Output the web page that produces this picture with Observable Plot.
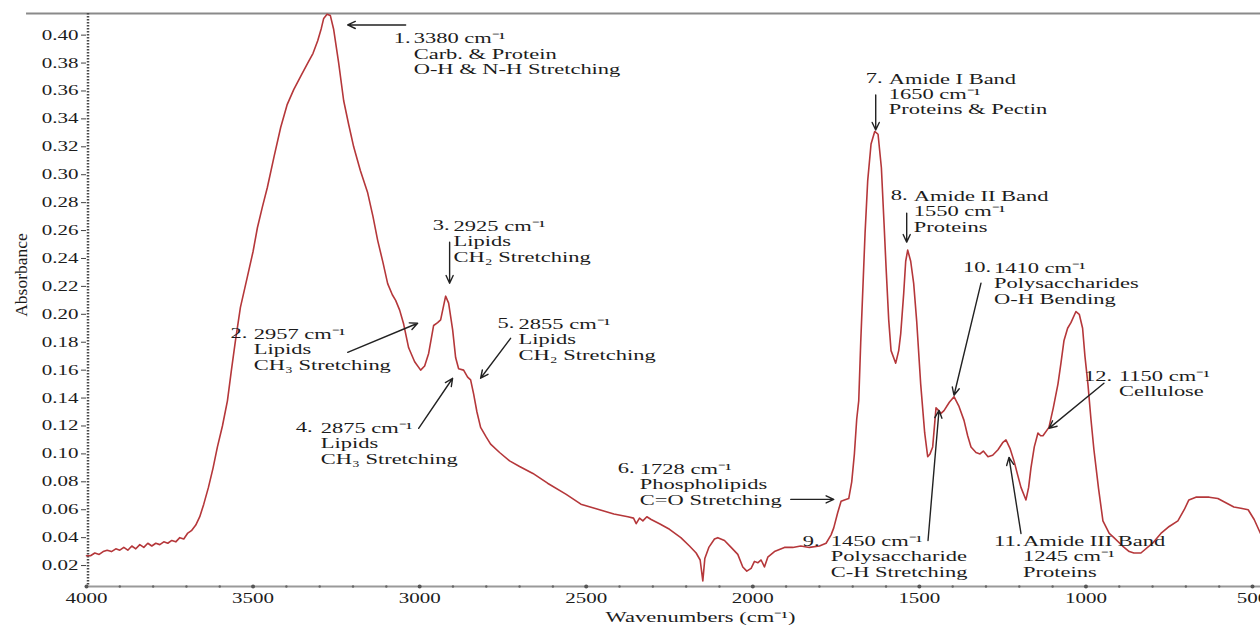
<!DOCTYPE html>
<html>
<head>
<meta charset="utf-8">
<script src="https://cdn.jsdelivr.net/npm/d3@7"></script>
<script src="https://cdn.jsdelivr.net/npm/@observablehq/plot@0.6"></script>
<style>
  html, body { margin: 0; padding: 0; background: #fff; }
  #chart svg { display: block; }
</style>
</head>
<body>
<div id="chart"></div>
<script>
// ---- spectrum ----
const wavenumber = [4000,3988,3975,3962,3950,3938,3925,3912,3900,3888,3876,3864,3852,3840,3828,3816,3804,3792,3780,3768,3756,3744,3732,3720,3708,3697,3685,3672,3660,3648,3634,3620,3607,3592,3577,3565,3553,3538,3517,3500,3487,3472,3457,3437,3417,3398,3378,3356,3336,3320,3306,3295,3288,3278,3268,3258,3243,3228,3213,3198,3178,3156,3140,3126,3110,3096,3082,3072,3060,3048,3033,3015,2997,2985,2973,2958,2946,2937,2922,2913,2901,2892,2883,2868,2856,2847,2838,2828,2817,2800,2787,2760,2730,2700,2660,2616,2560,2516,2460,2417,2375,2358,2350,2340,2330,2318,2305,2280,2250,2216,2190,2170,2158,2150,2144,2132,2115,2105,2085,2065,2045,2030,2018,2005,1995,1985,1975,1965,1955,1935,1905,1880,1856,1830,1800,1780,1765,1757,1745,1735,1725,1712,1703,1695,1688,1682,1676,1671,1663,1655,1645,1634,1624,1614,1606,1600,1592,1585,1571,1562,1556,1547,1541,1535,1526,1517,1508,1496,1484,1475,1468,1460,1450,1442,1435,1426,1410,1396,1381,1366,1355,1345,1330,1318,1308,1294,1280,1264,1250,1240,1228,1216,1205,1195,1180,1172,1165,1155,1144,1136,1129,1111,1098,1084,1075,1066,1055,1045,1030,1020,1010,1003,994,985,976,962,949,930,916,890,870,856,835,800,775,750,724,705,691,670,655,630,604,580,556,535,513,495,476];
const absorbance = [.027,.027,.029,.028,.030,.031,.030,.032,.031,.033,.031,.034,.032,.035,.033,.036,.034,.036,.035,.037,.036,.038,.037,.040,.039,.043,.045,.049,.055,.064,.076,.090,.105,.120,.138,.160,.181,.205,.227,.245,.262,.277,.291,.313,.334,.350,.361,.371,.380,.387,.396,.405,.412,.415,.414,.404,.380,.353,.336,.320,.303,.287,.270,.253,.237,.222,.214,.210,.203,.193,.176,.166,.160,.163,.172,.192,.194,.196,.213,.208,.189,.169,.161,.160,.155,.153,.143,.130,.119,.112,.107,.101,.095,.091,.086,.079,.071,.064,.060,.057,.055,.054,.050,.054,.052,.055,.053,.050,.046,.040,.034,.029,.024,.009,.025,.033,.039,.040,.038,.033,.028,.019,.016,.018,.023,.022,.024,.019,.026,.030,.033,.033,.034,.033,.034,.036,.042,.047,.058,.066,.067,.068,.080,.100,.125,.138,.180,.210,.258,.296,.322,.331,.329,.305,.265,.234,.196,.174,.165,.174,.186,.215,.238,.246,.238,.222,.195,.150,.115,.098,.100,.105,.133,.131,.129,.131,.137,.141,.134,.124,.113,.105,.101,.100,.102,.098,.099,.103,.108,.110,.104,.095,.085,.076,.067,.076,.090,.105,.115,.113,.113,.119,.133,.150,.165,.181,.190,.194,.202,.200,.190,.170,.150,.125,.103,.075,.052,.043,.040,.034,.030,.029,.029,.036,.043,.048,.052,.060,.067,.069,.069,.069,.068,.065,.062,.061,.060,.053,.043];

// ---- axis ticks ----
const xTickValues = [4000, 3500, 3000, 2500, 2000, 1500, 1000, 500];
const xMinorTickValues = [3900,3800,3700,3600,3400,3300,3200,3100,2900,2800,2700,2600,2400,2300,2200,2100,1900,1800,1700,1600,1400,1300,1200,1100,900,800,700,600];
const yTickValues = [0.02,0.04,0.06,0.08,0.10,0.12,0.14,0.16,0.18,0.20,0.22,0.24,0.26,0.28,0.30,0.32,0.34,0.36,0.38,0.40];

// ---- band annotations (anchors in data units) ----
const bandNumber = ["1.","2.","3.","4.","5.","6.","7.","8.","9.","10.","11.","12."];
const bandText = [
  "3380 cm⁻¹\nCarb. & Protein\nO-H & N-H Stretching",
  "2957 cm⁻¹\nLipids\nCH₃ Stretching",
  "2925 cm⁻¹\nLipids\nCH₂ Stretching",
  "2875 cm⁻¹\nLipids\nCH₃ Stretching",
  "2855 cm⁻¹\nLipids\nCH₂ Stretching",
  "1728 cm⁻¹\nPhospholipids\nC=O Stretching",
  "Amide I Band\n1650 cm⁻¹\nProteins & Pectin",
  "Amide II Band\n1550 cm⁻¹\nProteins",
  "1450 cm⁻¹\nPolysaccharide\nC-H Stretching",
  "1410 cm⁻¹\nPolysaccharides\nO-H Bending",
  "Amide III Band\n1245 cm⁻¹\nProteins",
  "1150 cm⁻¹\nCellulose"
];
const bandNumberX = [3078, 3568, 2961, 3372, 2766, 2405, 1661, 1586, 1850, 1369, 1276, 1006];
const bandTextX   = [3018, 3498, 2898, 3297, 2703, 2339, 1592, 1517, 1766, 1276, 1189, 901];
const bandTopY    = [0.4019, 0.1904, 0.2678, 0.1230, 0.1975, 0.0936, 0.3732, 0.2893, 0.0419, 0.2377, 0.0419, 0.1602];
const arrowFromX = [3042, 3216, 2910, 3003, 2727, 1886, 1631, 1538, 1474, 1315, 1195, 946];
const arrowFromY = [0.4073, 0.1728, 0.2517, 0.1183, 0.1828, 0.0674, 0.3571, 0.2725, 0.0380, 0.2223, 0.0430, 0.1506];
const arrowToX   = [3216, 3006, 2910, 2901, 2817, 1757, 1631, 1538, 1441, 1396, 1231, 1111];
const arrowToY   = [0.4073, 0.1936, 0.2223, 0.1542, 0.1542, 0.0674, 0.3320, 0.2517, 0.1312, 0.1420, 0.0975, 0.1183];

const spectrum = wavenumber.map((w, i) => ({w, a: absorbance[i]}));
const bands = bandNumber.map((n, i) => ({
  n, t: bandText[i], nx: bandNumberX[i], tx: bandTextX[i], y: bandTopY[i],
  x1: arrowFromX[i], y1: arrowFromY[i], x2: arrowToX[i], y2: arrowToY[i]
}));

const yMin = 0.005, yMax = 0.4155;
const STRETCH_FONT = "Liberation Serif, Times New Roman, serif";
const INK = "#1c1c1c";

const chart = Plot.plot({
  width: 1260,
  height: 625,
  marginLeft: 86,
  marginRight: 0,
  marginTop: 13,
  marginBottom: 39,
  x: {domain: [4000, 476]},
  y: {domain: [yMin, yMax]},
  style: {fontFamily: STRETCH_FONT, fontSize: "15px", color: INK, background: "#fff"},
  marks: [
    // top border line
    Plot.ruleY([yMax], {x1: 4180, x2: 476, stroke: "#8a8a8a", strokeWidth: 2}),
    // bottom axis line
    Plot.ruleY([yMin], {stroke: "#9a9a9a", strokeWidth: 2}),
    Plot.dot(xMinorTickValues, {x: d => d, y: yMin, r: 1.2, fill: "#666", stroke: null}),
    Plot.dot(xTickValues, {x: d => d, y: yMin, r: 2, fill: "#555", stroke: null}),
    Plot.axisX({ticks: xTickValues, tickSize: 0, tickPadding: 7, tickFormat: "d", label: null, fontSize: 14, fontFamily: STRETCH_FONT}),
    // left axis (dotted look)
    Plot.ruleX([4000], {dx: 1.5, stroke: "#4a4a4a", strokeWidth: 2.5, strokeDasharray: "1.6 1.4"}),
    Plot.axisY({ticks: yTickValues, tickSize: 5, tickPadding: 3, tickFormat: ".2f", label: null, fontSize: 14, fontFamily: STRETCH_FONT, stroke: "#444"}),
    // spectrum
    Plot.line(spectrum, {x: "w", y: "a", stroke: "#b5373a", strokeWidth: 1.6, curve: "linear"}),
    // annotations
    Plot.arrow(bands, {x1: "x1", y1: "y1", x2: "x2", y2: "y2", stroke: "#222", strokeWidth: 1.4, headLength: 9, headAngle: 50}),
    Plot.text(bands, {x: "nx", y: "y", text: "n", textAnchor: "start", lineAnchor: "top", fontSize: 15, fontFamily: STRETCH_FONT, fill: INK}),
    Plot.text(bands, {x: "tx", y: "y", text: "t", textAnchor: "start", lineAnchor: "top", lineHeight: 1.03, fontSize: 15, fontFamily: STRETCH_FONT, fill: INK}),
    // axis titles
    Plot.text(["Wavenumbers (cm⁻¹)"], {frameAnchor: "bottom", dx: 27, dy: 35, fontSize: 15, fontFamily: STRETCH_FONT, fill: INK}),
    Plot.text(["Absorbance"], {frameAnchor: "left", textAnchor: "middle", rotate: -90, dx: -65, dy: -25, fontSize: 17.5, fontFamily: "Liberation Serif, serif", fill: INK})
  ]
});

// the reference typography is horizontally widened: stretch horizontal texts about their anchors
const STRETCH = 1.5;
chart.querySelectorAll("text").forEach(t => {
  const g = t.closest("g[font-family]");
  const fam = g ? g.getAttribute("font-family") : STRETCH_FONT;
  if (fam === "Liberation Serif, serif") return;
  const tr = t.getAttribute("transform") || "";
  if (/rotate/.test(tr)) return;
  let extra = "";
  const xa = t.getAttribute("x");
  if (xa !== null && xa !== "" && !isNaN(+xa) && +xa !== 0) {
    extra = ` translate(${+xa},0)`;
    t.setAttribute("x", 0);
  }
  t.setAttribute("transform", `${tr}${extra} scale(${STRETCH},1)`);
});

document.getElementById("chart").appendChild(chart);
</script>
</body>
</html>
